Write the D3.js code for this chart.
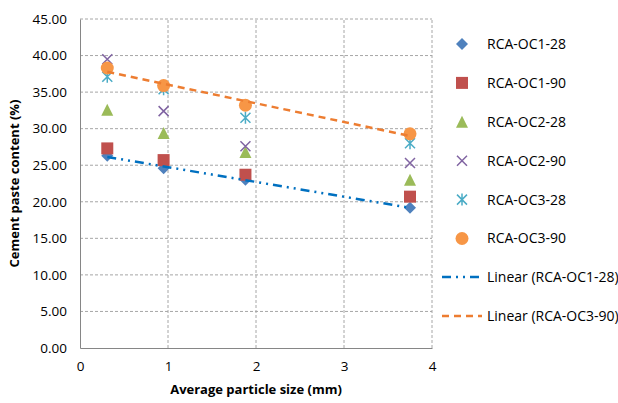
<!DOCTYPE html>
<html>
<head>
<meta charset="utf-8">
<script src="https://cdn.jsdelivr.net/npm/d3@7"></script>
<style>
  body { margin: 0; background: #fff; }
  text { font-family: "Open Sans", "Liberation Sans", sans-serif; }
</style>
</head>
<body>
<div id="chart"></div>
<script>
// average particle size (mm) of each fraction
var sizes = [0.31, 0.95, 1.88, 3.75];

var oc1_28 = [26.3, 24.6, 23.0, 19.2];
var oc1_90 = [27.3, 25.7, 23.7, 20.7];
var oc2_28 = [32.6, 29.4, 26.8, 23.0];
var oc2_90 = [39.5, 32.4, 27.6, 25.3];
var oc3_28 = [37.1, 35.4, 31.5, 28.0];
var oc3_90 = [38.3, 35.9, 33.2, 29.3];

var yTicks = [0, 5, 10, 15, 20, 25, 30, 35, 40, 45];
var xTicks = [0, 1, 2, 3, 4];

var series = [
  {name: "RCA-OC1-28", values: oc1_28, shape: "diamond", color: "#4F81BD"},
  {name: "RCA-OC1-90", values: oc1_90, shape: "square", color: "#C0504D"},
  {name: "RCA-OC2-28", values: oc2_28, shape: "triangle", color: "#9BBB59"},
  {name: "RCA-OC2-90", values: oc2_90, shape: "x", color: "#8064A2"},
  {name: "RCA-OC3-28", values: oc3_28, shape: "star", color: "#4BACC6"},
  {name: "RCA-OC3-90", values: oc3_90, shape: "circle", color: "#F79646"}
];

var trends = [
  {name: "Linear (RCA-OC1-28)", values: oc1_28, color: "#0070C0", dash: "9,5,2,5,2,5"},
  {name: "Linear (RCA-OC3-90)", values: oc3_90, color: "#ED7D31", dash: "7,5"}
];

var svg = d3.select("#chart")
  .append("svg")
  .attr("width", 618)
  .attr("height", 403);

var margin = {top: 19, left: 80, right: 186, bottom: 55};
var width = 618, height = 403;

var x = d3.scaleLinear()
    .domain([0, 4])
    .range([margin.left, width - margin.right]);

var y = d3.scaleLinear()
    .domain([0, 45])
    .range([height - margin.bottom, margin.top]);

// grid
var grid = svg.append("g").attr("stroke", "#A6A6A6").attr("stroke-dasharray", "3,2");
grid.selectAll("line.h")
  .data(yTicks.slice(1))
  .enter().append("line")
    .attr("x1", x(0)).attr("x2", x(4))
    .attr("y1", function(d) { return y(d); })
    .attr("y2", function(d) { return y(d); });
grid.selectAll("line.v")
  .data(xTicks.slice(1))
  .enter().append("line")
    .attr("y1", y(0)).attr("y2", y(45))
    .attr("x1", function(d) { return x(d); })
    .attr("x2", function(d) { return x(d); });

// axes
var xAxis = svg.append("g")
    .attr("transform", "translate(0," + y(0) + ")")
    .call(d3.axisBottom(x).tickValues(xTicks).tickSize(0).tickPadding(13).tickFormat(d3.format("d")));
var yAxis = svg.append("g")
    .attr("transform", "translate(" + x(0) + ",0)")
    .call(d3.axisLeft(y).tickValues(yTicks).tickSize(0).tickPadding(13).tickFormat(d3.format(".2f")));
[xAxis, yAxis].forEach(function(a) {
  a.select(".domain").attr("stroke", "#868686");
  a.selectAll("text").attr("font-size", 13.5).attr("fill", "#000");
});

svg.append("text")
  .attr("x", x(2))
  .attr("y", 394)
  .attr("text-anchor", "middle")
  .attr("font-size", 13)
  .attr("font-weight", "bold")
  .text("Average particle size (mm)");

svg.append("text")
  .attr("transform", "translate(19," + y(22.5) + ") rotate(-90)")
  .attr("text-anchor", "middle")
  .attr("font-size", 13)
  .attr("font-weight", "bold")
  .text("Cement paste content (%)");

// marker drawing
function marker(sel, shape, color) {
  if (shape === "diamond") {
    sel.append("path").attr("d", "M0,-6L6,0L0,6L-6,0Z").attr("fill", color);
  } else if (shape === "square") {
    sel.append("rect").attr("x", -6).attr("y", -6).attr("width", 12).attr("height", 12).attr("fill", color);
  } else if (shape === "triangle") {
    sel.append("path").attr("d", "M0,-6L6,6L-6,6Z").attr("fill", color);
  } else if (shape === "x") {
    sel.append("path").attr("d", "M-5,-5L5,5M-5,5L5,-5").attr("stroke", color).attr("stroke-width", 1.5);
  } else if (shape === "star") {
    sel.append("path").attr("d", "M-5,-5L5,5M-5,5L5,-5M0,-6L0,6").attr("stroke", color).attr("stroke-width", 1.5);
  } else if (shape === "circle") {
    sel.append("circle").attr("r", 6.5).attr("fill", color);
  }
}

// points
series.forEach(function(s) {
  svg.append("g").selectAll("g")
    .data(s.values)
    .enter().append("g")
      .attr("transform", function(d, i) { return "translate(" + x(sizes[i]) + "," + y(d) + ")"; })
      .each(function() { marker(d3.select(this), s.shape, s.color); });
});

// linear trendlines (least squares over the plotted points)
trends.forEach(function(t) {
  var mx = d3.mean(sizes), my = d3.mean(t.values);
  var sxy = d3.sum(sizes, function(v, i) { return (v - mx) * (t.values[i] - my); });
  var sxx = d3.sum(sizes, function(v) { return (v - mx) * (v - mx); });
  var b = sxy / sxx, a = my - b * mx;
  var ends = d3.extent(sizes);
  svg.append("line")
    .attr("x1", x(ends[0])).attr("y1", y(a + b * ends[0]))
    .attr("x2", x(ends[1])).attr("y2", y(a + b * ends[1]))
    .attr("stroke", t.color)
    .attr("stroke-width", 2.5)
    .attr("stroke-dasharray", t.dash);
});

// legend
var legend = svg.append("g");
series.forEach(function(s, i) {
  var g = legend.append("g").attr("transform", "translate(462," + (44 + i * 38.9) + ")");
  g.call(function(sel) { marker(sel, s.shape, s.color); });
  g.append("text").attr("x", 25).attr("dy", "0.35em").attr("font-size", 14).text(s.name);
});
trends.forEach(function(t, i) {
  var g = legend.append("g").attr("transform", "translate(442," + (277 + i * 39) + ")");
  g.append("line").attr("x1", 0).attr("x2", 40)
    .attr("stroke", t.color).attr("stroke-width", 2.5)
    .attr("stroke-dasharray", t.dash);
  g.append("text").attr("x", 45).attr("dy", "0.35em").attr("font-size", 14).text(t.name);
});
</script>
</body>
</html>
